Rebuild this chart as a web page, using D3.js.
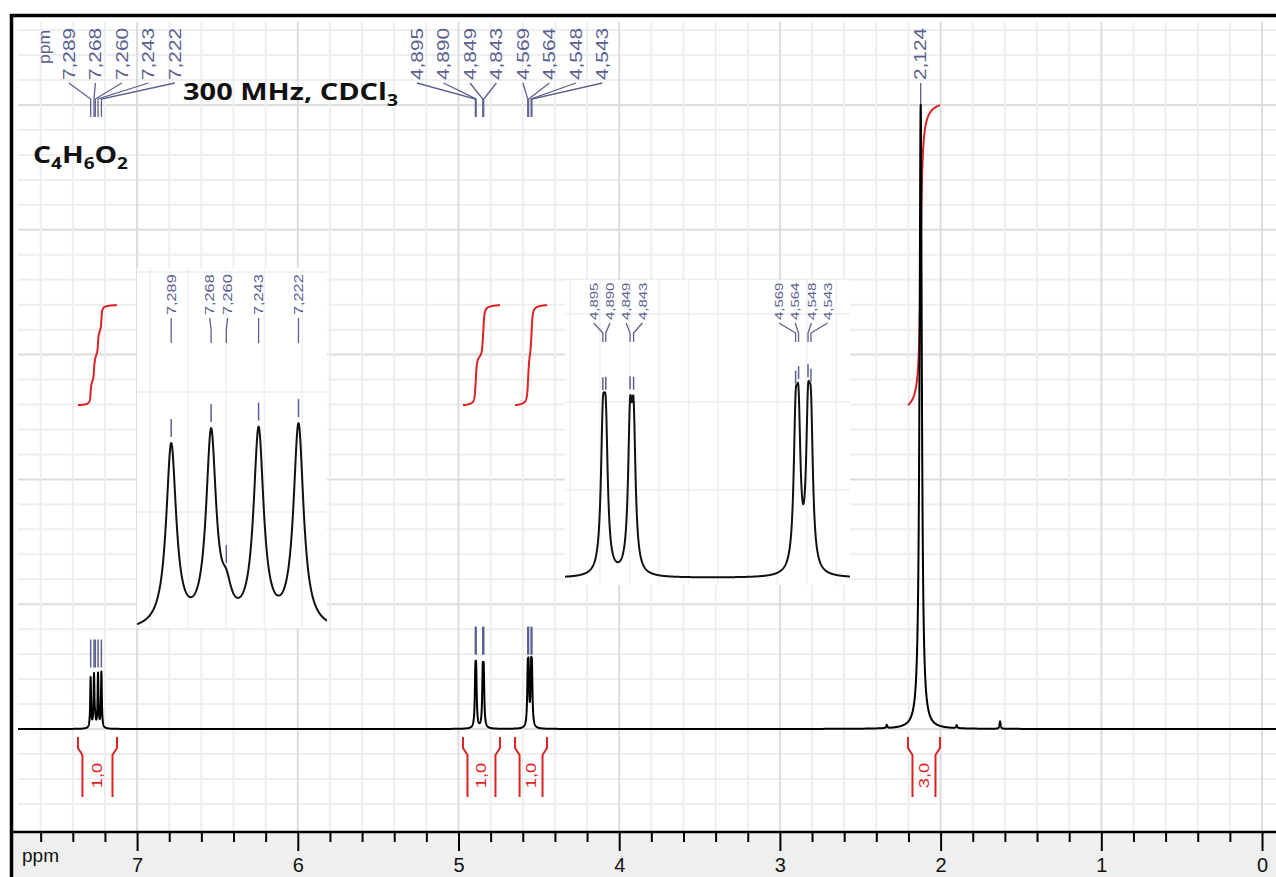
<!DOCTYPE html>
<html>
<head>
<meta charset="utf-8">
<script src="https://cdn.jsdelivr.net/npm/d3@7"></script>
<style>
html, body { margin: 0; padding: 0; background: #fff; }
svg { display: block; font-family: "Liberation Sans", Arial, sans-serif; }
</style>
</head>
<body>
<div id="chart"></div>
<script>
// 1H NMR of C4H6O2, 300 MHz, CDCl3

// peak list: position (ppm), height (plot units, 100 = tallest), half width (ppm)
var peakPpm    = [7.289, 7.268, 7.260, 7.243, 7.222, 4.895, 4.890, 4.849, 4.843, 4.569, 4.564, 4.548, 4.543, 2.124, 2.335, 1.900, 1.630];
var peakHeight = [8.06, 8.46, 1.15, 8.63, 8.94, 7.48, 7.48, 7.98, 7.98, 7.52, 7.52, 7.60, 7.60, 100, 0.5, 0.5, 1.2];
var peakWidth  = [0.0032, 0.0032, 0.0032, 0.0032, 0.0032, 0.004, 0.004, 0.004, 0.004, 0.004, 0.004, 0.004, 0.004, 0.0085, 0.004, 0.004, 0.004];

// picked peaks (labelled), one list per multiplet group
var pickAromatic = [7.289, 7.268, 7.260, 7.243, 7.222];
var pickVinyl    = [4.895, 4.890, 4.849, 4.843, 4.569, 4.564, 4.548, 4.543];
var pickMethyl   = [2.124];

// integrals
var integralFrom  = [7.368, 4.972, 4.648, 2.203];
var integralTo    = [7.125, 4.742, 4.449, 2.004];
var integralValue = [1.0, 1.0, 1.0, 3.0];

// axis
var axisMajor = [7, 6, 5, 4, 3, 2, 1, 0];

// zoomed insets (ppm window)
var inset1Ppm = [7.307, 7.207];
var inset2Ppm = [4.959, 4.477];

var W = 1276, H = 877;
var blue = "#5a6090", red = "#dd2222";
var fmt = function(v, d) { return d3.format("." + d + "f")(v).replace(".", ","); };

var svg = d3.select("#chart").append("svg")
    .attr("width", W)
    .attr("height", H);

var x = d3.scaleLinear().domain([7.741, -0.087]).range([18, 1276]);
var y = d3.scaleLinear().domain([0, 100]).range([729, 105]);

function intensity(p) {
    var s = 0;
    for (var i = 0; i < peakPpm.length; i++) {
        var d = (p - peakPpm[i]) / peakWidth[i];
        s += peakHeight[i] / (1 + d * d);
    }
    return s;
}

function sampleRange(p0, p1, step) {
    var n = Math.ceil(Math.abs(p1 - p0) / step);
    var pts = d3.range(n + 1).map(function(i) { return p0 + (p1 - p0) * i / n; });
    peakPpm.forEach(function(p) { if (p <= Math.max(p0, p1) && p >= Math.min(p0, p1)) pts.push(p); });
    pts.sort(function(a, b) { return b - a; });
    return pts.map(function(p) { return [p, intensity(p)]; });
}

// stretch text along its reading direction like the original software
function stretch(sel, k) {
    sel.each(function() {
        var len = this.getComputedTextLength();
        d3.select(this).attr("textLength", len * k).attr("lengthAdjust", "spacingAndGlyphs");
    });
}

// spread labels so they keep a minimum gap, clusters centred on their peaks
function spread(xs, gap) {
    var cl = xs.map(function(v, i) { return { lo: i, hi: i, c: v }; });
    var merged = true;
    while (merged) {
        merged = false;
        for (var k = 1; k < cl.length; k++) {
            var a = cl[k - 1], b = cl[k];
            var aEnd = a.c + (a.hi - a.lo) / 2 * gap;
            var bStart = b.c - (b.hi - b.lo) / 2 * gap;
            if (bStart - aEnd < gap) {
                cl.splice(k - 1, 2, { lo: a.lo, hi: b.hi, c: d3.mean(xs.slice(a.lo, b.hi + 1)) });
                merged = true;
                break;
            }
        }
    }
    var out = [];
    cl.forEach(function(c) {
        var n = c.hi - c.lo + 1;
        for (var i = 0; i < n; i++) out.push(c.c + (i - (n - 1) / 2) * gap);
    });
    return out;
}

// ---- grid
var gridX = d3.range(0, 39).map(function(i) { return { v: i * 0.2, major: i % 5 === 0 }; });
var gridY = d3.range(-3, 29).map(function(k) { return { v: k * 4, major: k % 5 === 0 }; });

svg.append("g").selectAll("line")
    .data(gridY)
    .enter()
    .append("line")
    .attr("x1", 18).attr("x2", W)
    .attr("y1", function(d) { return y(d.v); })
    .attr("y2", function(d) { return y(d.v); })
    .attr("stroke", function(d) { return d.major ? "#dcdcdc" : "#eeeeee"; })
    .attr("stroke-width", 2);

svg.append("g").selectAll("line")
    .data(gridX)
    .enter()
    .append("line")
    .attr("x1", function(d) { return x(d.v); })
    .attr("x2", function(d) { return x(d.v); })
    .attr("y1", 22).attr("y2", 832)
    .attr("stroke", function(d) { return d.major ? "#dcdcdc" : "#eeeeee"; })
    .attr("stroke-width", 2);

// ---- axis
svg.append("rect")
    .attr("x", 13).attr("y", 832)
    .attr("width", W - 13).attr("height", H - 832)
    .attr("fill", "#efefef");

var minor = d3.range(1, 39).filter(function(i) { return i % 5 !== 0; }).map(function(i) { return i * 0.2; });

var gMinor = svg.append("g")
    .attr("transform", "translate(0,832)")
    .call(d3.axisBottom(x).tickValues(minor).tickSize(10).tickSizeOuter(0).tickFormat(""));
var gMajor = svg.append("g")
    .attr("transform", "translate(0,832)")
    .call(d3.axisBottom(x).tickValues(axisMajor).tickSize(19).tickSizeOuter(0).tickPadding(7).tickFormat(d3.format("d")));
[gMinor, gMajor].forEach(function(g) {
    g.select(".domain").remove();
    g.selectAll(".tick line").attr("stroke", "#000").attr("stroke-width", 2);
});
gMajor.selectAll(".tick text")
    .style("font-family", "'Liberation Sans', Arial, sans-serif")
    .style("font-size", "20px")
    .attr("fill", "#111");

svg.append("line")
    .attr("x1", 13).attr("x2", W)
    .attr("y1", 832).attr("y2", 832)
    .attr("stroke", "#000").attr("stroke-width", 2.5);

svg.append("text")
    .attr("x", 22).attr("y", 862)
    .attr("font-size", 19)
    .attr("fill", "#111")
    .text("ppm");

// ---- insets
var insets = [
    { ppm: inset1Ppm, picks: pickAromatic, box: [137, 268, 327, 628], base: 632, ratio: 22.7,
      gridPpm: 0.02, gridPx: 120, gap: 18, font: 12.5, textBottom: 315, leg: [318, 330, 343], tick: [24, 6] },
    { ppm: inset2Ppm, picks: pickVinyl, box: [565, 280, 850, 585], base: 578, ratio: 17,
      gridPpm: 0.05, gridPx: 88, gap: 16.2, font: 11.5, textBottom: 320, leg: [323, 333, 342], tick: [22, 9] }
];

insets.forEach(function(ins, n) {
    var b = ins.box;
    var ix = d3.scaleLinear().domain(ins.ppm).range([b[0], b[2]]);
    var iy = function(v) { return ins.base - v * ins.ratio; };
    var g = svg.append("g");

    g.append("clipPath").attr("id", "clip" + n)
        .append("rect")
        .attr("x", b[0]).attr("y", b[1])
        .attr("width", b[2] - b[0]).attr("height", b[3] - b[1]);

    g.append("rect")
        .attr("x", b[0]).attr("y", b[1])
        .attr("width", b[2] - b[0]).attr("height", b[3] - b[1])
        .attr("fill", "#fff");

    var gv = d3.range(Math.ceil(ins.ppm[1] / ins.gridPpm), Math.floor(ins.ppm[0] / ins.gridPpm) + 1)
        .map(function(i) { return i * ins.gridPpm; });
    g.selectAll(".gv").data(gv).enter().append("line")
        .attr("x1", function(d) { return ix(d); }).attr("x2", function(d) { return ix(d); })
        .attr("y1", b[1]).attr("y2", b[3])
        .attr("stroke", "#f0f0f0").attr("stroke-width", 1.5);
    var gh = d3.range(1, 5).map(function(k) { return ins.base - k * ins.gridPx; })
        .filter(function(v) { return v > b[1]; });
    g.selectAll(".gh").data(gh).enter().append("line")
        .attr("x1", b[0]).attr("x2", b[2])
        .attr("y1", function(d) { return d; }).attr("y2", function(d) { return d; })
        .attr("stroke", "#eeeeee").attr("stroke-width", 1.5);

    var data = sampleRange(ins.ppm[0], ins.ppm[1], 0.25 / Math.abs(ix(1) - ix(0)));
    g.append("path")
        .datum(data)
        .attr("clip-path", "url(#clip" + n + ")")
        .attr("fill", "none")
        .attr("stroke", "#111")
        .attr("stroke-width", 2)
        .attr("stroke-linejoin", "round")
        .attr("d", d3.line()
            .x(function(d) { return ix(d[0]); })
            .y(function(d) { return iy(d[1]); }));

    // peak marks over each maximum
    g.selectAll(".pk").data(ins.picks).enter().append("line")
        .attr("x1", function(d) { return ix(d); }).attr("x2", function(d) { return ix(d); })
        .attr("y1", function(d) { return iy(intensity(d)) - ins.tick[0]; })
        .attr("y2", function(d) { return iy(intensity(d)) - ins.tick[1]; })
        .attr("stroke", blue).attr("stroke-width", 1.5);

    // labels with legs
    var lx = spread(ins.picks.map(function(d) { return ix(d); }), ins.gap);
    g.selectAll(".leg").data(ins.picks).enter().append("path")
        .attr("fill", "none").attr("stroke", blue).attr("stroke-width", 1.3)
        .attr("d", function(d, i) {
            return "M" + lx[i] + "," + ins.leg[0] + "L" + ix(d) + "," + ins.leg[1] + "L" + ix(d) + "," + ins.leg[2];
        });
    g.selectAll(".lab").data(ins.picks).enter().append("text")
        .attr("transform", function(d, i) {
            return "translate(" + (lx[i] + ins.font * 0.36) + "," + ins.textBottom + ") rotate(-90)";
        })
        .attr("font-size", ins.font)
        .attr("fill", blue)
        .text(function(d) { return fmt(d, 3); })
        .call(stretch, 1.3);
});

// ---- main peak labels
var groups = [
    { picks: pickAromatic, shift: 26, ticks: true },
    { picks: pickVinyl, shift: 5, ticks: true },
    { picks: pickMethyl, shift: 0, ticks: false }
];
var gLab = svg.append("g");
groups.forEach(function(grp, n) {
    var px = grp.picks.map(function(d) { return x(d); });
    var lx = spread(px, 26.5).map(function(v) { return v + grp.shift; });
    var top = d3.min(grp.picks, function(d) { return y(intensity(d)); });

    gLab.selectAll(".leg" + n).data(grp.picks).enter().append("path")
        .attr("fill", "none").attr("stroke", blue).attr("stroke-width", 1.3)
        .attr("d", function(d, i) {
            return "M" + lx[i] + ",83L" + x(d) + ",99L" + x(d) + ",117";
        });
    gLab.selectAll(".lab" + n).data(grp.picks).enter().append("text")
        .attr("transform", function(d, i) { return "translate(" + (lx[i] + 5.8) + ",80) rotate(-90)"; })
        .attr("font-size", 16)
        .attr("fill", blue)
        .text(function(d) { return fmt(d, 3); })
        .call(stretch, 1.3);

    if (grp.ticks) {
        gLab.selectAll(".tk" + n).data(grp.picks).enter().append("line")
            .attr("x1", function(d) { return x(d); }).attr("x2", function(d) { return x(d); })
            .attr("y1", top - 32).attr("y2", top - 4)
            .attr("stroke", blue).attr("stroke-width", 1.5);
    }
    if (n === 0) {
        gLab.append("text")
            .attr("transform", "translate(" + (lx[0] - 25 + 5.8) + ",64) rotate(-90)")
            .attr("font-size", 16)
            .attr("fill", blue)
            .text("ppm")
            .call(stretch, 1.1);
    }
});

// ---- integrals
var intOffset = 51.9, intPerH = 16.03;
integralFrom.forEach(function(p0, i) {
    var p1 = integralTo[i];
    var pts = sampleRange(p0, p1, 0.0005);
    var acc = 0, cum = [[pts[0][0], 0]];
    for (var k = 1; k < pts.length; k++) {
        acc += (pts[k - 1][1] + pts[k][1]) / 2 * (pts[k - 1][0] - pts[k][0]);
        cum.push([pts[k][0], acc]);
    }
    cum.forEach(function(c) { c[1] = intOffset + integralValue[i] * intPerH * c[1] / acc; });

    svg.append("path")
        .datum(cum)
        .attr("fill", "none")
        .attr("stroke", red)
        .attr("stroke-width", 2)
        .attr("d", d3.line()
            .x(function(d) { return x(d[0]); })
            .y(function(d) { return y(d[1]); }));

    var xl = x(p0), xr = x(p1);
    svg.append("path")
        .attr("fill", "none").attr("stroke", red).attr("stroke-width", 2)
        .attr("d", "M" + xl + ",737V748L" + (xl + 4.5) + ",755V797" +
                   "M" + xr + ",737V748L" + (xr - 4.5) + ",755V797");
    svg.append("text")
        .attr("transform", "translate(" + ((xl + xr) / 2 + 5) + ",775.5) rotate(-90)")
        .attr("text-anchor", "middle")
        .attr("font-size", 14)
        .attr("fill", red)
        .text(fmt(integralValue[i], 1))
        .call(stretch, 1.3);
});

// ---- spectrum
svg.append("path")
    .datum(sampleRange(7.741, -0.087, 0.0005))
    .attr("fill", "none")
    .attr("stroke", "#000")
    .attr("stroke-width", 2)
    .attr("stroke-linejoin", "round")
    .attr("d", d3.line()
        .x(function(d) { return x(d[0]); })
        .y(function(d) { return y(d[1]); }));

// ---- titles
function bigText(tx, ty, width, parts) {
    var t = svg.append("text")
        .style("font-family", "'Open Sans', 'Liberation Sans', sans-serif")
        .style("font-weight", 700)
        .style("font-size", "24px")
        .attr("fill", "#111");
    parts.forEach(function(p) {
        t.append("tspan")
            .style("font-size", p.sub ? "16px" : "24px")
            .attr("dy", p.sub ? 6 : (p.after ? -6 : 0))
            .text(p.s);
    });
    var w = t.node().getBBox().width;
    t.attr("transform", "translate(" + tx + "," + ty + ") scale(" + (width / w) + ",1)");
}
bigText(183, 100, 215, [{ s: "300 MHz, CDCl" }, { s: "3", sub: true }]);
bigText(33, 163, 95, [{ s: "C" }, { s: "4", sub: true }, { s: "H", after: true }, { s: "6", sub: true },
                      { s: "O", after: true }, { s: "2", sub: true }]);

// ---- frame
svg.append("line")
    .attr("x1", 11.5).attr("x2", 11.5).attr("y1", 14).attr("y2", H)
    .attr("stroke", "#000").attr("stroke-width", 3.5);
svg.append("line")
    .attr("x1", 10).attr("x2", W).attr("y1", 15.5).attr("y2", 15.5)
    .attr("stroke", "#000").attr("stroke-width", 3.5);
</script>
</body>
</html>
